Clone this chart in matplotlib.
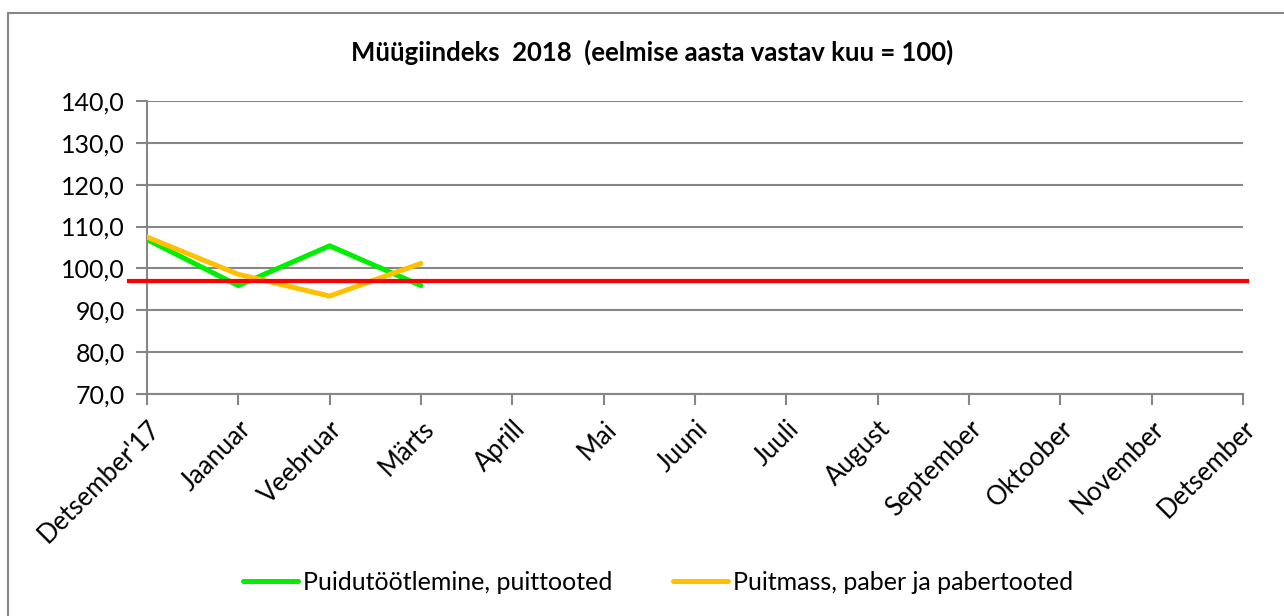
import matplotlib.pyplot as plt
from matplotlib.patches import Rectangle

plt.rcParams['font.family'] = ['Lato', 'DejaVu Sans']

months = ["Detsember'17", 'Jaanuar', 'Veebruar', 'Märts', 'Aprill', 'Mai', 'Juuni',
          'Juuli', 'August', 'September', 'Oktoober', 'November', 'Detsember']
puidu = [106.9, 95.9, 105.4, 95.9]
puitmass = [107.5, 98.6, 93.4, 101.2]
avg_level = 97.0
title = 'Müügiindeks  2018  (eelmise aasta vastav kuu = 100)'
yticks = [70, 80, 90, 100, 110, 120, 130, 140]

fig = plt.figure(figsize=(12.84, 6.16), dpi=100)
ax = fig.add_axes([147 / 1284, 1 - 394 / 616, 1096 / 1284, 293 / 616])

grid_col = '#868686'
x = list(range(len(months)))

ax.plot(x[:len(puidu)], puidu, color='#00ee00', lw=3.6, solid_capstyle='round',
        label='Puidutöötlemine, puittooted', zorder=3)
ax.plot(x[:len(puitmass)], puitmass, color='#ffc000', lw=3.6, solid_capstyle='round',
        label='Puitmass, paber ja pabertooted', zorder=4)
ax.axhline(avg_level, xmin=-0.016, xmax=1.004, color='#ff0000', lw=3, clip_on=False, zorder=5)

ax.set_xlim(0, len(months) - 1)
ax.set_ylim(70, 140)
ax.set_yticks(yticks)
ax.set_yticklabels([f'{v:.1f}'.replace('.', ',') for v in yticks], fontsize=18)
ax.set_xticks(x)
ax.set_xticklabels(months, rotation=45, ha='right', va='top', rotation_mode='anchor', fontsize=18.5)
ax.yaxis.grid(True, color=grid_col, lw=1.5)
ax.set_axisbelow(True)
for s in ['top', 'right']:
    ax.spines[s].set_visible(False)
for s in ['left', 'bottom']:
    ax.spines[s].set_color(grid_col)
    ax.spines[s].set_linewidth(1.5)
ax.tick_params(axis='both', color=grid_col, width=1.5, length=8)
ax.tick_params(axis='y', pad=8)
ax.tick_params(axis='x', pad=8)

fig.text(652 / 1284, 1 - 52 / 616, title, ha='center', va='center', fontsize=18.5, fontweight='bold')

leg = fig.legend(loc='center', bbox_to_anchor=(658 / 1284, 1 - 582 / 616), ncol=2, frameon=False,
                 fontsize=18, handlelength=2.2, handletextpad=0.2, columnspacing=2.4)

fig.patches.append(Rectangle((8 / 1284, -0.05), 1.1, 1.05 - 13 / 616, transform=fig.transFigure,
                             fill=False, edgecolor=grid_col, lw=1.5, zorder=0))

fig.savefig('out.png', dpi=100)
